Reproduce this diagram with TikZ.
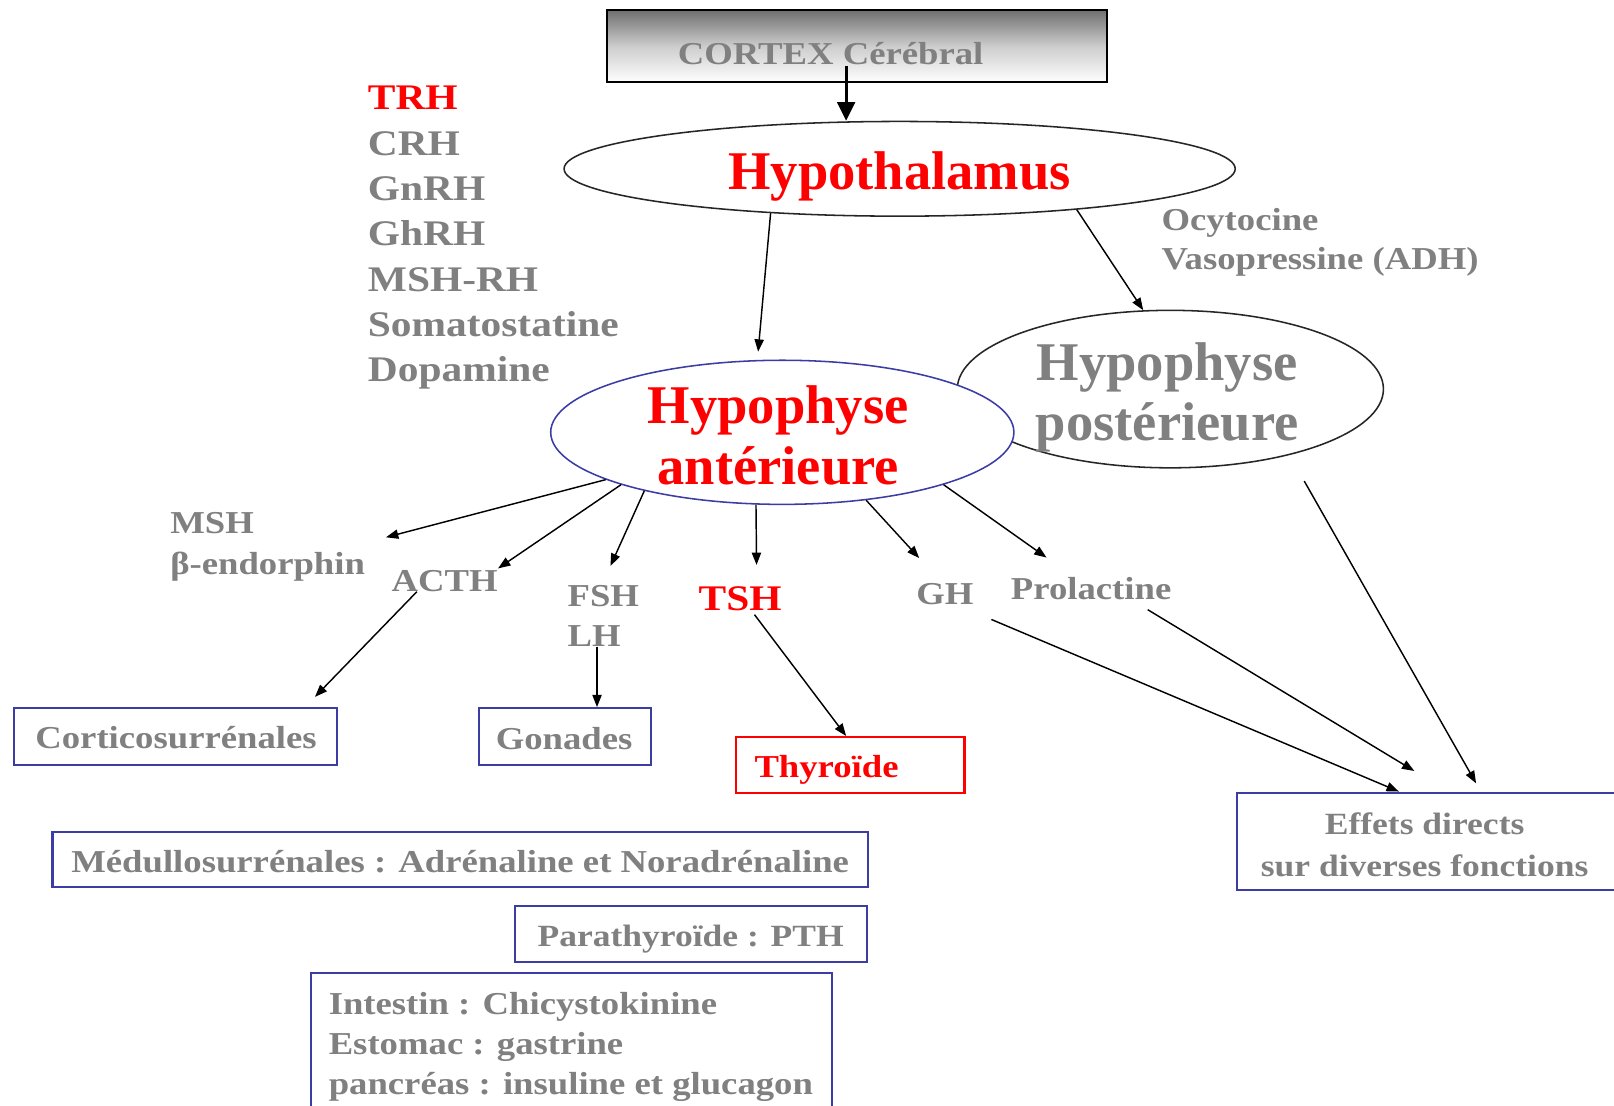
\documentclass[tikz,border=0pt]{standalone}
\usepackage{fontspec}
\setmainfont{Liberation Serif}
\newfontfamily\wf[FakeStretch=1.15]{Liberation Serif}
\usetikzlibrary{shapes.geometric,arrows.meta,calc}
\definecolor{tgray}{RGB}{128,128,128}
\definecolor{bblue}{RGB}{60,60,165}
\definecolor{tred}{RGB}{255,0,0}
\begin{document}
\begin{tikzpicture}[x=0.5pt,y=-0.5pt,
  txt/.style={inner sep=0pt, text=tgray, font=\wf\bfseries\fontsize{15.5}{19}\selectfont},
  big/.style={inner sep=0pt, font=\bfseries\fontsize{26.5}{29.5}\selectfont},
  bbox/.style={rectangle, draw=bblue, line width=1pt, inner sep=0pt, text=tgray, font=\wf\bfseries\fontsize{15.5}{19}\selectfont},
  arr/.style={draw=black, line width=0.7pt, -{Triangle[length=6pt,width=4.5pt]}}
]
\fill[white] (0,0) rectangle (1568,1074);
\useasboundingbox (0,0) rectangle (1568,1074);

% cortex
\node[rectangle, draw=black, line width=1pt, minimum width=242.5pt, minimum height=35pt, inner sep=0pt,
  top color={rgb,255:red,112;green,112;blue,112}, bottom color=white,
  middle color={rgb,255:red,205;green,205;blue,205}] (cortex) at (832.5,45) {};
\node[txt] (cortextxt) at (807,52) {CORTEX Cérébral};

% ellipses
\node[ellipse, draw=black!85, line width=0.75pt, minimum width=326pt, minimum height=46pt, inner sep=0pt] (hyp) at (874,164) {};
\node[big, text=tred] (hyptxt) at (874,171) {Hypothalamus};
\node[ellipse, draw=black!85, line width=0.75pt, minimum width=207pt, minimum height=76.5pt, inner sep=0pt] (post) at (1137,378) {};
\node[big, text=tgray, align=center] (posttxt) at (1134,386) {Hypophyse\\postérieure};
\node[ellipse, draw=bblue, fill=white, line width=0.75pt, minimum width=225pt, minimum height=70pt, inner sep=0pt] (ant) at (760,420) {};
\node[big, text=tred, align=center] (anttxt) at (756,423) {Hypophyse\\antérieure};

% left list
\node[txt, font=\wf\bfseries\fontsize{17.5}{22}\selectfont, align=left, anchor=west] (rh) at (357,231)
  {\textcolor{tred}{TRH}\\CRH\\GnRH\\GhRH\\MSH-RH\\Somatostatine\\Dopamine};
\node[txt, align=left, anchor=west] (ocy) at (1128,235) {Ocytocine\\Vasopressine (ADH)};

% hormones
\node[txt, font=\wf\bfseries\fontsize{15.5}{20}\selectfont, align=left, anchor=west] (msh) at (165,531) {MSH\\β-endorphin};
\node[txt] (acth) at (432,565) {ACTH};
\node[txt, font=\wf\bfseries\fontsize{15.5}{19.5}\selectfont, align=left, anchor=west] (fsh) at (551,598) {FSH\\LH};
\node[txt, text=tred, font=\wf\bfseries\fontsize{17.5}{20}\selectfont] (tsh) at (719,582) {TSH};
\node[txt] (gh) at (918,577) {GH};
\node[txt] (prl) at (1060,572) {Prolactine};

% boxes
\node[bbox, minimum width=156.5pt, minimum height=27.5pt] (cortico) at (170.5,715.5) {};
\node[txt] (corticotxt) at (171,717) {Corticosurrénales};
\node[bbox, minimum width=83.5pt, minimum height=27.5pt] (gon) at (548.5,715.5) {};
\node[txt] (gontxt) at (548,718) {Gonades};
\node[bbox, draw=tred, minimum width=111pt, minimum height=27pt] (thy) at (826,743) {};
\node[txt, text=tred] (thytxt) at (803,748) {Thyroïde};
\node[bbox, minimum width=189pt, minimum height=47.5pt] (effets) at (1391,817.5) {};
\node[txt, font=\wf\bfseries\fontsize{15}{20.5}\selectfont, align=center] (effetstxt) at (1384,821) {Effets directs\\sur diverses fonctions};
\node[bbox, minimum width=396pt, minimum height=27pt] (medul) at (447,835) {};
\node[txt] (medultxt) at (447,837) {Médullosurrénales : Adrénaline et Noradrénaline};
\node[bbox, minimum width=171pt, minimum height=27.5pt] (para) at (671,907.5) {};
\node[txt, font=\wf\bfseries\fontsize{15}{19}\selectfont] (paratxt) at (671,912) {Parathyroïde : PTH};
\node[bbox, minimum width=253pt, minimum height=72pt] (intest) at (555,1017) {};
\node[txt, font=\wf\bfseries\fontsize{15.5}{19.25}\selectfont, align=left, anchor=west] (intesttxt) at (319,1017)
  {Intestin : Chicystokinine\\Estomac : gastrine\\pancréas : insuline et glucagon};

% connectors
\coordinate (cst) at (822,64);
\draw[line width=1.5pt, -{Triangle[length=9pt,width=8.5pt]}] (cst) -- (cst |- hyp.north);
\draw[arr, shorten >=4pt] (hyp.-161.6) -- (ant.109.8);
\draw[arr] (hyp.-13.4) -- (post.109.6);
\draw[arr, shorten <=14.5pt] (post.-29.6) -- ($(effets.north west)+(233,-8)$);
\draw[arr] (ant.-165) -- ($(msh.east)+(20,-9)$);
\draw[arr] (ant.-162) -- ($(acth.north east)+(0,-2)$);
\draw[arr] (ant.-157.5) -- ($(fsh.north)+(7,-18)$);
\draw[arr] (ant.-110) -- ($(tsh.north)+(16,-21)$);
\draw[arr] (ant.-39.3) -- ($(gh.north)+(-25,-24)$);
\draw[arr] (ant.-18.1) -- ($(prl.north west)+(35,-19)$);
\draw[arr] ($(acth.south)+(-27,-1)$) -- ($(cortico.north east)+(-22,-10)$);
\coordinate (lhgo) at ($(gon.north)+(31.5,0)$);
\draw[arr] (fsh.south -| lhgo) -- (lhgo);
\draw[arr] ($(tsh.south)+(14,3)$) -- ($(thy.north)+(-4,0)$);
\draw[arr] ($(gh.south east)+(17,14)$) -- ($(effets.north west)+(158,0)$);
\draw[arr] ($(prl.south)+(55,9)$) -- ($(effets.north west)+(173,-20)$);
\end{tikzpicture}
\end{document}
